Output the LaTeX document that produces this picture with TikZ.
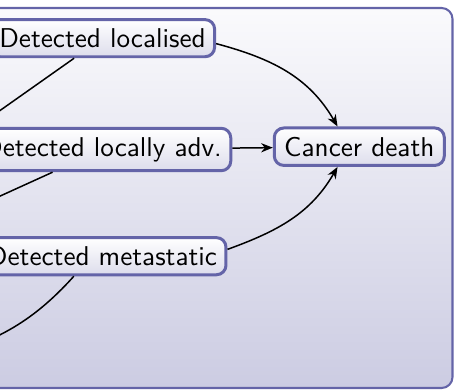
\documentclass[tikz,border=0pt]{standalone}
\usepackage{tikz}
\usepackage{xcolor}
\usetikzlibrary{positioning,
	arrows,
	arrows.meta,
	shapes}
\definecolor{boxline}{RGB}{100,100,168}
\tikzstyle{st}=[draw=boxline, line width=1.1pt, rounded corners=3.5pt,
		top color=white, bottom color=boxline!22, inner sep=3.3pt, font=\sffamily]
\tikzstyle{bgbox}=[draw=boxline, line width=0.75pt, rounded corners=4pt,
		top color=white!97!boxline, bottom color=boxline!33]
\tikzstyle{tr}=[-{Stealth[length=4.3pt, width=3.4pt, inset=1.4pt]}, line width=0.55pt]
\tikzstyle{ln}=[line width=0.55pt]

\begin{document}
\begin{tikzpicture}[x=0.3676pt, y=0.3676pt]
	\useasboundingbox (0,0) rectangle (454,390);
	\clip (0,0) rectangle (454,390);
	\path[bgbox] (-400,2) rectangle (452.5,382);
	% states
	\node[st] (adv) at (102.5,240.5) {Detected locally adv.};
	\node[st, above=25.2pt of adv] (loc) {Detected localised};
	\node[st, below=23.5pt of adv] (met) {Detected metastatic};
	\node[st, base right=14.9pt of adv, minimum width=62.5pt] (cd) {Cancer death};
	% from the left
	\coordinate (p1) at (-102,207.5);
	\coordinate (p2) at (-102,147.5);
	\coordinate (p3) at (-70,30);
	\draw[ln] (p1) -- (loc);
	\draw[ln] (p2) -- (adv);
	\draw[ln] (p3) to[out=15, in=-132] (met.-145);
	% to death
	\draw[tr] ([yshift=-2pt]loc.east) to[out=-15, in=120] ([xshift=-8pt]cd.north);
	\draw[tr] (adv) -- (cd);
	\draw[tr] ([yshift=2.5pt]met.east) to[out=20, in=-120] ([xshift=-8pt]cd.south);
\end{tikzpicture}
\end{document}
